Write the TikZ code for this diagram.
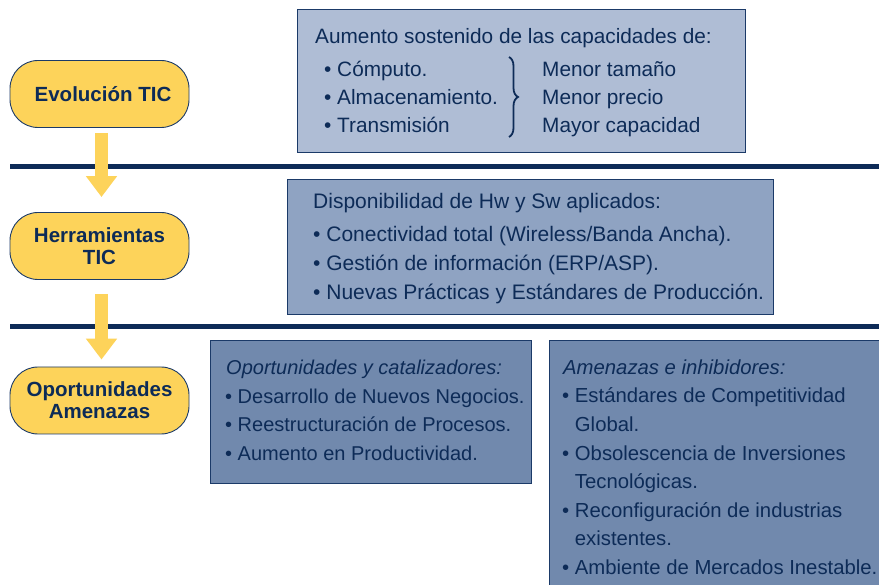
\documentclass[tikz,border=0pt]{standalone}
\usepackage{fontspec}
\setmainfont{Liberation Sans}
\usetikzlibrary{arrows.meta,decorations.pathreplacing,calc}
\definecolor{navy}{HTML}{0D2B57}
\definecolor{bordernavy}{HTML}{1B3A68}
\definecolor{boxA}{HTML}{AFBDD5}
\definecolor{boxB}{HTML}{8FA3C2}
\definecolor{boxC}{HTML}{7189AD}
\definecolor{pillyellow}{HTML}{FDD35A}
\begin{document}
\begin{tikzpicture}[x=1pt,y=-1pt,
  pill/.style={draw=bordernavy, line width=0.9pt, fill=pillyellow, rounded corners=28pt,
    minimum width=179pt, minimum height=67pt, inner sep=0pt, align=center,
    text=navy, font=\fontsize{20.5}{22}\selectfont\bfseries},
  panel/.style={draw=bordernavy, line width=0.9pt, inner sep=0pt, anchor=north west},
  txt/.style={anchor=west, inner sep=0pt, text height=14.6pt, text depth=0pt,
    text=navy, font=\fontsize{20.5}{24}\selectfont},
  txtA/.style={txt, font=\fontsize{20.8}{24}\selectfont},
  txtB/.style={txt, font=\fontsize{21}{24}\selectfont},
  txtC/.style={txt, font=\fontsize{20}{24}\selectfont},
  txtD/.style={txt, font=\fontsize{20.3}{24}\selectfont},
  itxtC/.style={txt, font=\fontsize{20}{24}\selectfont\itshape},
  itxtD/.style={txt, font=\fontsize{20.3}{24}\selectfont\itshape},
  sep/.style={draw=navy, line width=5pt},
  bigarrow/.style={draw=pillyellow, line width=13pt,
    -{Triangle[width=30pt,length=21pt]}}
]
\useasboundingbox (0,0) rectangle (879,585);
\clip (0,0) rectangle (879,585);

% separator lines
\coordinate (s1a) at (10,167);
\coordinate (s1b) at (879,167);
\coordinate (s2a) at (10,327);
\coordinate (s2b) at (879,327);
\draw[sep] (s1a) -- (s1b);
\draw[sep] (s2a) -- (s2b);

% pills
\node[pill] (p1) at (99.5,94) {\hspace*{7pt}Evolución TIC};
\node[pill] (p2) at (99.5,246) {Herramientas\\TIC};
\node[pill] (p3) at (99.5,400.5) {Oportunidades\\Amenazas};

% arrows
\draw[bigarrow, shorten <=5pt, shorten >=15pt] ([xshift=2pt]p1.south) -- ([xshift=2pt]p2.north);
\draw[bigarrow, shorten <=14pt, shorten >=7pt] ([xshift=2pt]p2.south) -- ([xshift=2pt]p3.north);

% panels
\node[panel, fill=boxA, minimum width=448pt, minimum height=143pt] (b1) at (297,9) {};
\node[panel, fill=boxB, minimum width=486pt, minimum height=135pt] (b2) at (287,179) {};
\node[panel, fill=boxC, minimum width=321pt, minimum height=143pt] (b3) at (210,340) {};
\node[panel, fill=boxC, minimum width=340pt, minimum height=260pt] (b4) at (549,340) {};

% box 1
\node[txtA] (t11) at (315,36) {Aumento sostenido de las capacidades de:};
\node[txtA] (t12) at (324,69) {• Cómputo.};
\node[txtA] (t13) at (324,97) {• Almacenamiento.};
\node[txtA] (t14) at (324,125) {• Transmisión};
\node[txtA] (t15) at (542,69) {Menor tamaño};
\node[txtA] (t16) at (542,97) {Menor precio};
\node[txtA] (t17) at (542,125) {Mayor capacidad};
\coordinate (br1) at (509,57);
\coordinate (br2) at (509,137);
\draw[navy, line width=1.8pt, decorate, decoration={brace, amplitude=9pt}] (br1) -- (br2);

% box 2
\node[txtB] (t21) at (313,201) {Disponibilidad de Hw y Sw aplicados:};
\node[txtB] (t22) at (313,234) {• Conectividad total (Wireless/Banda Ancha).};
\node[txtB] (t23) at (313,263) {• Gestión de información (ERP/ASP).};
\node[txtB] (t24) at (313,292) {• Nuevas Prácticas y Estándares de Producción.};

% box 3
\node[itxtC] (t31) at (226,367) {Oportunidades y catalizadores:};
\node[txtC] (t32) at (225,396) {• Desarrollo de Nuevos Negocios.};
\node[txtC] (t33) at (225,424) {• Reestructuración de Procesos.};
\node[txtC] (t34) at (225,453) {• Aumento en Productividad.};

% box 4
\node[itxtD] (t41) at (563,367) {Amenazas e inhibidores:};
\node[txtD] (t42) at (562,395) {• Estándares de Competitividad};
\node[txtD] (t43) at (562,424) {\phantom{• }Global.};
\node[txtD] (t44) at (562,453) {• Obsolescencia de Inversiones};
\node[txtD] (t45) at (562,481) {\phantom{• }Tecnológicas.};
\node[txtD] (t46) at (562,510) {• Reconfiguración de industrias};
\node[txtD] (t47) at (562,538) {\phantom{• }existentes.};
\node[txtD] (t48) at (562,567) {• Ambiente de Mercados Inestable.};
\end{tikzpicture}
\end{document}
